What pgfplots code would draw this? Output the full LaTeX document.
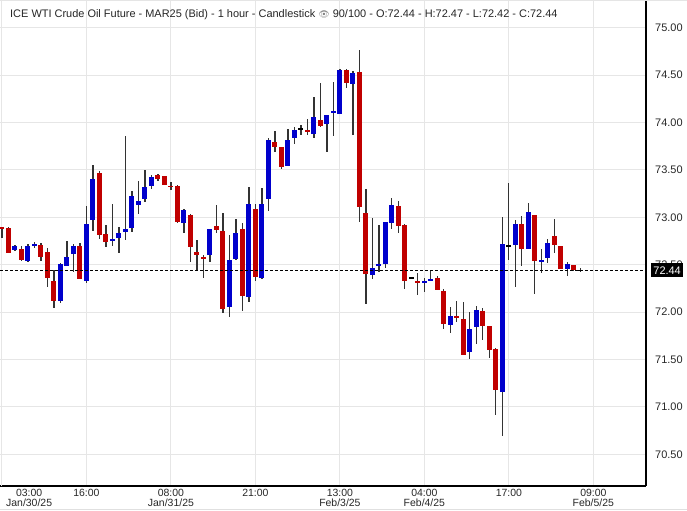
\documentclass[border=0pt]{standalone}
\usepackage{pgfplots}
\pgfplotsset{compat=1.18}
\usepackage{pgfplotstable}
\usepackage{fontspec}
\setmainfont{Liberation Sans}
\newfontfamily\emojifont{Noto Emoji}
\definecolor{upc}{RGB}{0,0,204}
\definecolor{dnc}{RGB}{192,0,0}
\definecolor{wickc}{RGB}{51,51,51}
\definecolor{gridc}{RGB}{230,230,230}
\definecolor{labc}{RGB}{40,40,40}

\pgfplotstableread{
i O H L C
2 72.655 72.71 72.64 72.70
4 72.54 72.72 72.53 72.70
5 72.70 72.74 72.68 72.72
9 72.12 72.52 72.10 72.51
10 72.49 72.75 72.49 72.58
11 72.61 72.72 72.42 72.70
13 72.33 73.12 72.31 72.93
14 72.97 73.55 72.86 73.41
17 72.755 73.14 72.70 72.765
18 72.78 72.90 72.62 72.84
19 72.85 73.86 72.76 72.88
20 72.89 73.28 72.85 73.23
21 73.13 73.38 73.04 73.17
22 73.19 73.50 73.16 73.32
23 73.33 73.45 73.30 73.43
28 72.94 73.09 72.83 73.08
32 72.60 72.88 72.53 72.88
35 72.06 72.81 71.95 72.55
36 72.56 72.98 72.55 72.84
38 72.16 73.32 72.11 73.14
40 72.36 73.31 72.35 73.14
41 73.19 73.84 73.07 73.82
44 73.54 73.93 73.54 73.82
45 73.84 73.95 73.77 73.92
48 73.88 74.27 73.84 74.06
50 73.99 74.08 73.69 74.08
51 74.105 74.43 73.86 74.115
52 74.09 74.56 74.09 74.55
54 74.41 74.54 73.87 74.52
57 72.39 72.99 72.35 72.47
58 72.49 72.92 72.42 72.51
59 72.51 72.95 72.47 72.95
60 72.94 73.20 72.88 73.13
65 72.31 72.36 72.21 72.33
66 72.33 72.45 72.33 72.35
69 71.86 72.05 71.78 71.96
72 71.58 72.00 71.51 71.82
73 71.84 72.07 71.66 72.02
77 71.16 73.00 70.69 72.72
79 72.71 72.97 72.27 72.93
81 72.67 73.15 72.67 73.06
83 72.53 72.67 72.41 72.55
84 72.57 72.77 72.52 72.73
87 72.46 72.53 72.38 72.51
}\upc

\pgfplotstableread{
i O H L C
0 72.90 72.90 72.78 72.88
1 72.89 72.90 72.62 72.62
3 72.67 72.70 72.54 72.55
6 72.71 72.73 72.54 72.58
7 72.63 72.68 72.27 72.36
8 72.33 72.44 72.04 72.12
12 72.70 72.73 72.35 72.35
15 73.47 73.49 72.77 72.81
16 72.82 72.92 72.69 72.74
24 73.45 73.46 73.38 73.40
25 73.44 73.44 73.34 73.34
26 73.33 73.37 73.29 73.32
27 73.33 73.34 72.94 72.95
29 73.03 73.03 72.53 72.69
30 72.63 72.76 72.43 72.60
31 72.58 72.60 72.36 72.56
33 72.91 73.13 72.83 72.87
34 72.86 73.05 71.99 72.03
37 72.88 72.94 72.01 72.17
39 73.09 73.14 72.33 72.37
42 73.80 73.91 73.69 73.74
43 73.74 73.74 73.51 73.53
47 73.92 74.04 73.87 73.90
49 74.03 74.42 73.95 73.96
53 74.55 74.56 74.37 74.42
55 74.53 74.77 72.95 73.11
56 73.05 73.30 72.09 72.40
61 73.12 73.17 72.83 72.91
62 72.92 72.93 72.25 72.33
64 72.33 72.41 72.18 72.31
67 72.36 72.38 72.23 72.23
68 72.22 72.24 71.82 71.88
70 71.96 72.12 71.90 71.94
71 71.93 72.11 71.55 71.55
74 72.01 72.04 71.71 71.85
75 71.85 71.85 71.52 71.60
76 71.61 71.62 70.91 71.18
80 72.93 73.02 72.49 72.67
82 73.02 73.02 72.19 72.54
85 72.80 72.98 72.62 72.71
86 72.70 72.70 72.46 72.46
88 72.50 72.50 72.43 72.44
}\dnc

\pgfplotstableread{
i O H L C
46 73.93 73.97 73.87 73.93
63 72.36 72.365 72.355 72.36
78 72.70 73.36 72.55 72.70
89 72.44 72.47 72.42 72.44
}\dojc

\pgfplotsset{
  wick/.style={draw=none, mark=none, forget plot,
    error bars/.cd, y dir=both, y explicit, error mark=none,
    error bar style={draw=wickc, solid, line width=1.2bp}},
  body/.style={draw=none, mark=none, forget plot,
    error bars/.cd, y dir=both, y explicit, error mark=none,
    error bar style={draw=#1, solid, line width=5bp}},
}

\begin{document}
\begin{tikzpicture}
\useasboundingbox (0,0) rectangle (687bp,511bp);
\fill[white] (0,0) rectangle (687bp,511bp);
\begin{axis}[
  at={(0,25bp)}, anchor=south west,
  width=646bp, height=486bp, scale only axis,
  xmin=-0.3, xmax=99.1, ymin=70.166, ymax=75.292,
  clip=false,
  axis x line*=bottom, axis y line*=right,
  axis line style={black, line width=1.2bp},
  major tick length=0pt,
  xmajorgrids, ymajorgrids,
  grid style={gridc, line width=1bp},
  xtick={13,26,39,52,65,78,91},
  xticklabels={16:00,{08:00\\Jan/31/25},21:00,{13:00\\Feb/3/25},{04:00\\Feb/4/25},17:00,{09:00\\Feb/5/25}},
  extra x ticks={0},
  extra x tick labels={{03:00\\Jan/30/25}},
  extra x tick style={grid=major, xticklabel style={anchor=north west, xshift=4bp}},
  xticklabel style={align=center, anchor=north, inner sep=0pt, yshift=-3bp, font=\fontsize{10.5}{10.5}\selectfont},
  ytick={70.5,71,71.5,72,72.5,73,73.5,74,74.5,75},
  yticklabel style={anchor=west, inner sep=0pt, xshift=9bp, font=\fontsize{11}{12}\selectfont},
  /pgf/number format/.cd, fixed, fixed zerofill, precision=2, assume math mode=true, /pgfplots/.cd,
  tick label style={text=labc},
]
\addplot[wick] table[x=i, y expr={(\thisrow{H}+\thisrow{L})/2}, y error expr={(\thisrow{H}-\thisrow{L})/2}] {\upc};
\addplot[wick] table[x=i, y expr={(\thisrow{H}+\thisrow{L})/2}, y error expr={(\thisrow{H}-\thisrow{L})/2}] {\dnc};
\addplot[wick] table[x=i, y expr={(\thisrow{H}+\thisrow{L})/2}, y error expr={(\thisrow{H}-\thisrow{L})/2}] {\dojc};
\addplot[body=upc] table[x=i, y expr={(\thisrow{O}+\thisrow{C})/2}, y error expr={max(abs(\thisrow{C}-\thisrow{O})/2,0.009)}] {\upc};
\addplot[body=dnc] table[x=i, y expr={(\thisrow{O}+\thisrow{C})/2}, y error expr={max(abs(\thisrow{C}-\thisrow{O})/2,0.009)}] {\dnc};
\addplot[body=black] table[x=i, y expr={(\thisrow{O}+\thisrow{C})/2}, y error expr={max(abs(\thisrow{C}-\thisrow{O})/2,0.008)}] {\dojc};
\addplot[black, line width=0.9bp, dash pattern=on 3bp off 2bp, forget plot] coordinates {(-0.3,72.44) (99.1,72.44)};
\coordinate (lastp) at (axis cs:99.1,72.44);
\end{axis}
\node[fill=black, text=white, anchor=west, inner xsep=2.2bp, inner ysep=0pt, minimum height=14bp, font=\fontsize{11}{12}\selectfont] at ([xshift=5bp]lastp) {72.44};
\node[anchor=west, inner sep=0pt, text=black!85, font=\fontsize{11}{13}\selectfont] at (10bp,496bp) {ICE WTI Crude Oil Future - MAR25 (Bid) - 1 hour - Candlestick {\color{gray}\emojifont\fontsize{9}{9}\selectfont 👁} 90/100 - O:72.44 - H:72.47 - L:72.42 - C:72.44};
\draw[black!12, line width=1bp] (0,1.5bp) -- (687bp,1.5bp);
\draw[black!10, line width=1bp] (0,510.5bp) -- (687bp,510.5bp);
\end{tikzpicture}
\end{document}
